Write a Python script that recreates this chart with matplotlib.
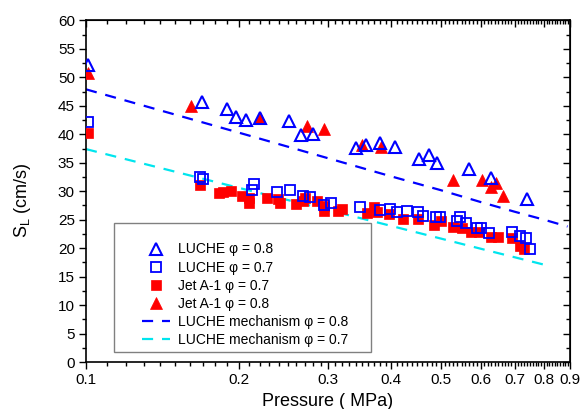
import matplotlib
matplotlib.use("Agg")
import matplotlib.pyplot as plt
import matplotlib.patches as patches
from matplotlib.ticker import FixedLocator, FixedFormatter, MultipleLocator, NullFormatter
import numpy as np

plt.rcParams['font.family'] = ['Liberation Sans', 'DejaVu Sans']
plt.rcParams['mathtext.fontset'] = 'custom'
plt.rcParams['mathtext.rm'] = 'Liberation Sans'

# LUCHE phi = 0.8 (open blue triangles)
p_luche08 = [0.101, 0.169, 0.19, 0.198, 0.207, 0.22, 0.251, 0.265, 0.28, 0.341, 0.356,
             0.38, 0.406, 0.453, 0.474, 0.493, 0.569, 0.629, 0.74]
s_luche08 = [52.2, 45.7, 44.4, 43.1, 42.5, 42.9, 42.4, 39.9, 40.1, 37.6, 38.1,
             38.5, 37.7, 35.7, 36.3, 35.0, 33.9, 32.4, 28.7]

# LUCHE phi = 0.7 (open blue squares)
p_luche07 = [0.101, 0.168, 0.17, 0.212, 0.2145, 0.238, 0.252, 0.268, 0.276, 0.294, 0.304,
             0.347, 0.38, 0.398, 0.41, 0.43, 0.451, 0.461, 0.489, 0.499, 0.538, 0.547,
             0.561, 0.59, 0.601, 0.622, 0.692, 0.716, 0.738, 0.752]
s_luche07 = [42.1, 32.5, 32.1, 30.2, 31.3, 29.8, 30.3, 29.2, 28.9, 27.5, 28.0,
             27.3, 26.7, 26.8, 26.4, 26.6, 26.3, 25.7, 25.5, 25.5, 24.8, 25.5,
             24.4, 23.5, 23.5, 22.6, 22.8, 22.1, 21.7, 19.9]

# Jet A-1 phi = 0.7 (filled red squares)
p_jet07 = [0.101, 0.168, 0.183, 0.186, 0.193, 0.203, 0.21, 0.21, 0.227, 0.239, 0.241,
           0.26, 0.268, 0.27, 0.285, 0.295, 0.295, 0.314, 0.32, 0.358, 0.37, 0.374,
           0.396, 0.421, 0.452, 0.486, 0.501, 0.53, 0.551, 0.575, 0.596, 0.629, 0.65,
           0.693, 0.718, 0.732]
s_jet07 = [40.3, 31.1, 29.7, 29.9, 30.1, 29.2, 28.8, 27.9, 28.8, 28.6, 27.9,
           27.8, 28.3, 28.8, 28.3, 27.4, 26.5, 26.6, 26.9, 26.1, 27.2, 26.3,
           26.0, 25.1, 25.1, 24.1, 24.7, 23.7, 23.6, 22.9, 22.8, 21.9, 22.0,
           21.7, 20.4, 19.9]

# Jet A-1 phi = 0.8 (filled red triangles)
p_jet08 = [0.101, 0.161, 0.22, 0.273, 0.294, 0.35, 0.381, 0.53, 0.603, 0.629, 0.643, 0.665]
s_jet08 = [50.8, 45.0, 42.8, 41.5, 41.0, 38.1, 37.8, 32.0, 32.0, 30.7, 31.4, 29.2]

# LUCHE mechanism curves
p_mech08 = [0.1, 0.2, 0.3, 0.4, 0.5, 0.6, 0.7, 0.8, 0.89]
s_mech08 = [47.9, 40.3, 35.8, 32.6, 30.2, 28.1, 26.4, 25.0, 23.8]
p_mech07 = [0.1, 0.2, 0.3, 0.4, 0.5, 0.6, 0.7, 0.8]
s_mech07 = [37.4, 30.6, 26.7, 23.9, 21.7, 19.9, 18.4, 17.1]

x_ticks = [0.1, 0.2, 0.3, 0.4, 0.5, 0.6, 0.7, 0.8, 0.9]
x_ticklabels = ['0.1', '0.2', '0.3', '0.4', '0.5', '0.6', '0.7', '0.8', '0.9']

fig = plt.figure(figsize=(5.83, 4.09), dpi=100)
ax = fig.add_axes([0.1475, 0.1149, 0.8302, 0.8351])

blue = '#0000FF'
red = '#FF0000'
cyan = '#00E5EE'

ax.plot(p_mech08, s_mech08, color=blue, lw=1.6, dashes=(5, 4),
        label='LUCHE mechanism \u03c6 = 0.8', zorder=2)
ax.plot(p_mech07, s_mech07, color=cyan, lw=1.6, dashes=(5, 4),
        label='LUCHE mechanism \u03c6 = 0.7', zorder=2)
ax.plot(p_luche08, s_luche08, ls='none', marker='^', ms=8.5, mfc='none', mec=blue, mew=1.5,
        label='LUCHE \u03c6 = 0.8', zorder=4)
ax.plot(p_luche07, s_luche07, ls='none', marker='s', ms=7, mfc='none', mec=blue, mew=1.3,
        label='LUCHE \u03c6 = 0.7', zorder=4)
ax.plot(p_jet07, s_jet07, ls='none', marker='s', ms=7.5, mfc=red, mec=red, mew=0.5,
        label='Jet A-1 \u03c6 = 0.7', zorder=3)
ax.plot(p_jet08, s_jet08, ls='none', marker='^', ms=8.5, mfc=red, mec=red, mew=0.5,
        label='Jet A-1 \u03c6 = 0.8', zorder=3)

ax.set_xscale('log')
ax.set_xlim(0.1, 0.9)
ax.set_ylim(0, 60)

minor_x = [v / 100 for v in range(11, 90) if v % 10 != 0]
ax.xaxis.set_major_locator(FixedLocator(x_ticks))
ax.xaxis.set_major_formatter(FixedFormatter(x_ticklabels))
ax.xaxis.set_minor_locator(FixedLocator(minor_x))
ax.xaxis.set_minor_formatter(NullFormatter())
ax.yaxis.set_major_locator(MultipleLocator(5))
ax.yaxis.set_minor_locator(MultipleLocator(2.5))

ax.tick_params(which='major', direction='out', length=5, width=1, labelsize=11, pad=3)
ax.tick_params(which='minor', direction='out', length=3, width=1)
for sp in ax.spines.values():
    sp.set_linewidth(1.2)

# mirror ticks pointing inward on top and right
axt = ax.secondary_xaxis('top')
axt.xaxis.set_major_locator(FixedLocator(x_ticks))
axt.xaxis.set_minor_locator(FixedLocator(minor_x))
axt.xaxis.set_major_formatter(NullFormatter())
axt.xaxis.set_minor_formatter(NullFormatter())
axt.tick_params(which='major', direction='in', length=5, width=1, labeltop=False)
axt.tick_params(which='minor', direction='in', length=3, width=1)
axr = ax.secondary_yaxis('right')
axr.yaxis.set_major_locator(MultipleLocator(5))
axr.yaxis.set_minor_locator(MultipleLocator(2.5))
axr.yaxis.set_major_formatter(NullFormatter())
axr.tick_params(which='major', direction='in', length=5, width=1, labelright=False)
axr.tick_params(which='minor', direction='in', length=3, width=1)

ax.set_xlabel('Pressure ( MPa)', fontsize=13, labelpad=4)
ax.set_ylabel('S$_\\mathregular{L}$ (cm/s)', fontsize=13)
ax.yaxis.set_label_coords(-0.11, 0.475)

handles, labels = ax.get_legend_handles_labels()
order = [2, 3, 4, 5, 0, 1]
leg = ax.legend([handles[i] for i in order], [labels[i] for i in order],
                loc='upper left', bbox_to_anchor=(0.1157, 0.35), frameon=False,
                fontsize=10, borderpad=0, borderaxespad=0, labelspacing=0.3,
                handlelength=2.0, handletextpad=0.6)

frame = patches.Rectangle((0.058, 0.029), 0.531, 0.378, transform=ax.transAxes,
                          fill=True, facecolor='white', edgecolor='#808080', lw=1, zorder=5)
ax.add_patch(frame)
leg.set_zorder(6)

fig.savefig('out.png', dpi=100)
